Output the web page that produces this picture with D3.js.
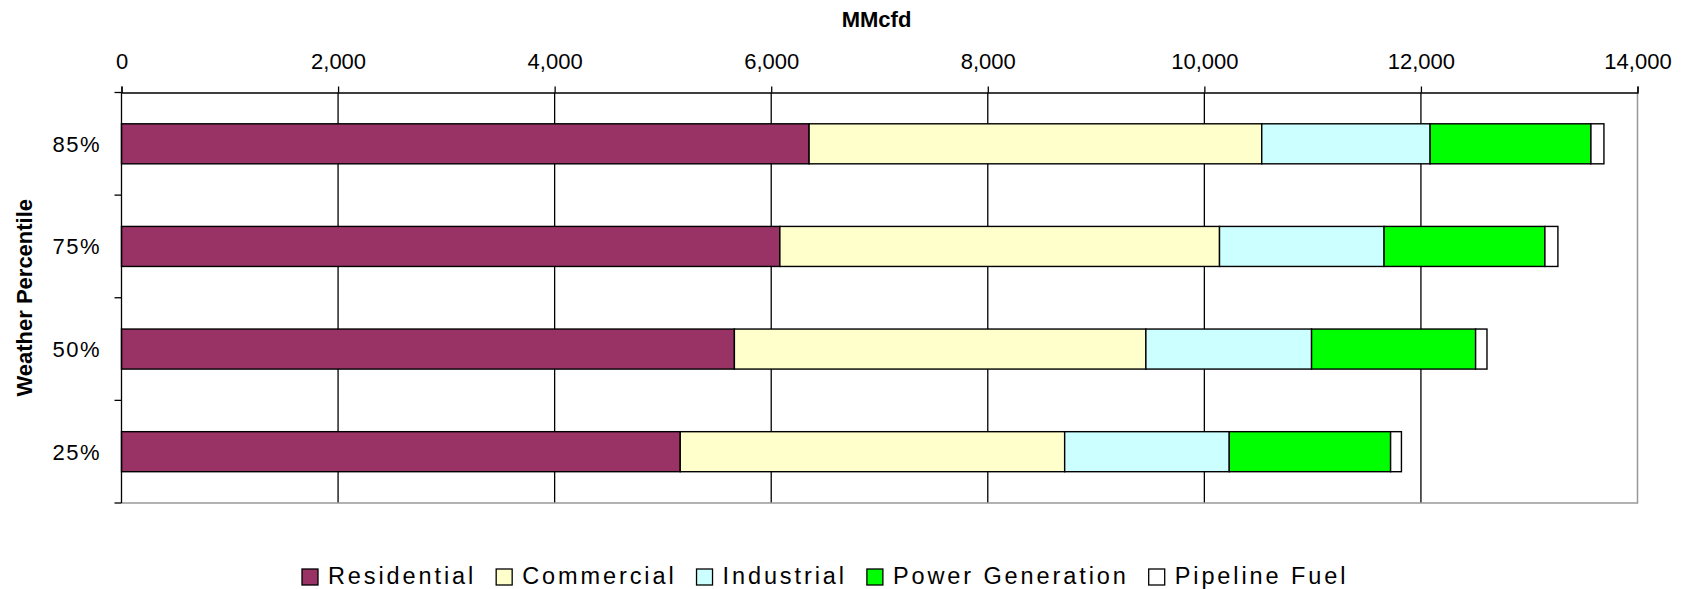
<!DOCTYPE html>
<html>
<head>
<meta http-equiv='Content-Type' content='text/html;charset=utf-8'/>
<title>Weather Percentile demand</title>
<script src='https://d3js.org/d3.v7.min.js'></script>
<style>
	body { margin: 0; background: #ffffff; }
	text { font-family: 'Liberation Sans', Arial, sans-serif; fill: #000; }
</style>
</head>
<body>
<script>
	'use strict';
	// values, MMcfd
	const percentiles = ['85%', '75%', '50%', '25%'];
	const seriesNames = ['Residential', 'Commercial', 'Industrial', 'Power Generation', 'Pipeline Fuel'];
	const residential = [6350, 6080, 5660, 5160];
	const commercial = [4180, 4060, 3800, 3550];
	const industrial = [1555, 1520, 1530, 1520];
	const powerGeneration = [1485, 1485, 1515, 1490];
	const pipelineFuel = [120, 120, 105, 100];
	const xTicks = [0, 2000, 4000, 6000, 8000, 10000, 12000, 14000];
	const colors = ['#993366', '#ffffcc', '#ccffff', '#00ff00', '#ffffff'];

	const width = 1686;
	const height = 589;
	const plot = {left: 121.5, right: 1637.5, top: 92.5, bottom: 503};

	const svg = d3.select('body').append('svg')
		.attr('width', width)
		.attr('height', height);

	svg.append('rect')
		.attr('width', '100%')
		.attr('height', '100%')
		.attr('fill', '#ffffff');

	const x = d3.scaleLinear()
		.domain([0, 14000])
		.range([plot.left, plot.right]);

	const y = d3.scaleBand()
		.domain(percentiles)
		.range([plot.top, plot.bottom])
		.paddingInner(0.61)
		.paddingOuter(0.305);

	// gridlines
	svg.append('g')
		.selectAll('line')
		.data(xTicks.slice(1, -1))
		.join('line')
		.attr('x1', d => x(d)).attr('x2', d => x(d))
		.attr('y1', plot.top).attr('y2', plot.bottom)
		.attr('stroke', '#000')
		.attr('stroke-width', 1.3);

	// plot border, right and bottom
	svg.append('path')
		.attr('d', `M${x(14000)},${plot.top}V${plot.bottom}H${plot.left}`)
		.attr('fill', 'none')
		.attr('stroke', '#999')
		.attr('stroke-width', 1.5);

	// stacked bars
	const table = percentiles.map((p, i) => ({
		percentile: p,
		'Residential': residential[i],
		'Commercial': commercial[i],
		'Industrial': industrial[i],
		'Power Generation': powerGeneration[i],
		'Pipeline Fuel': pipelineFuel[i]
	}));
	const stacked = d3.stack().keys(seriesNames)(table);

	svg.append('g')
		.selectAll('g')
		.data(stacked)
		.join('g')
		.attr('fill', (d, i) => colors[i])
		.selectAll('rect')
		.data(d => d)
		.join('rect')
		.attr('x', d => x(d[0]))
		.attr('width', d => x(d[1]) - x(d[0]))
		.attr('y', d => y(d.data.percentile))
		.attr('height', y.bandwidth())
		.attr('stroke', '#000')
		.attr('stroke-width', 1.4);

	// top axis
	const xAxis = svg.append('g')
		.attr('transform', `translate(0,${plot.top})`)
		.call(d3.axisTop(x)
			.tickValues(xTicks)
			.tickFormat(d3.format(','))
			.tickSizeInner(6)
			.tickSizeOuter(6)
			.tickPadding(18));
	xAxis.selectAll('line, path').attr('stroke', '#000').attr('stroke-width', 1.3);
	xAxis.selectAll('text')
		.style('font-size', '22px')
		.style('font-family', "'Liberation Sans', Arial, sans-serif")
		.attr('fill', '#000');

	// left axis: line and ticks at category boundaries
	const yAxis = svg.append('g');
	yAxis.append('line')
		.attr('x1', plot.left).attr('x2', plot.left)
		.attr('y1', plot.top).attr('y2', plot.bottom)
		.attr('stroke', '#000').attr('stroke-width', 1.3);
	const bounds = percentiles.map(p => y(p) - y.step() * y.paddingInner() / 2)
		.concat([plot.bottom]);
	yAxis.selectAll('.ytick')
		.data(bounds)
		.join('line')
		.attr('class', 'ytick')
		.attr('x1', plot.left - 7).attr('x2', plot.left)
		.attr('y1', d => d).attr('y2', d => d)
		.attr('stroke', '#000').attr('stroke-width', 1.3);
	yAxis.selectAll('.ylabel')
		.data(percentiles)
		.join('text')
		.attr('class', 'ylabel')
		.attr('x', 101)
		.attr('y', d => y(d) + y.bandwidth() / 2)
		.attr('dy', '0.36em')
		.attr('text-anchor', 'end')
		.style('font-size', '22px')
		.style('letter-spacing', '1.5px')
		.text(d => d);

	// axis titles
	svg.append('text')
		.attr('x', (plot.left + plot.right) / 2 - 3)
		.attr('y', 27)
		.attr('text-anchor', 'middle')
		.style('font-size', '22px')
		.style('font-weight', 'bold')
		.text('MMcfd');

	svg.append('text')
		.attr('transform', `translate(32,${(plot.top + plot.bottom) / 2}) rotate(-90)`)
		.attr('text-anchor', 'middle')
		.style('font-size', '22px')
		.style('font-weight', 'bold')
		.text('Weather Percentile');

	// legend, laid out left to right
	const legend = svg.append('g');
	let lx = 302;
	seriesNames.forEach((name, i) => {
		legend.append('rect')
			.attr('x', lx).attr('y', 569)
			.attr('width', 16).attr('height', 16)
			.attr('fill', colors[i])
			.attr('stroke', '#000')
			.attr('stroke-width', 1.3);
		const t = legend.append('text')
			.attr('x', lx + 26)
			.attr('y', 584.3)
			.style('font-size', '23.5px')
			.style('letter-spacing', '2.9px')
			.text(name);
		lx += 26 + t.node().getComputedTextLength() + 20;
	});
</script>
</body>
</html>
